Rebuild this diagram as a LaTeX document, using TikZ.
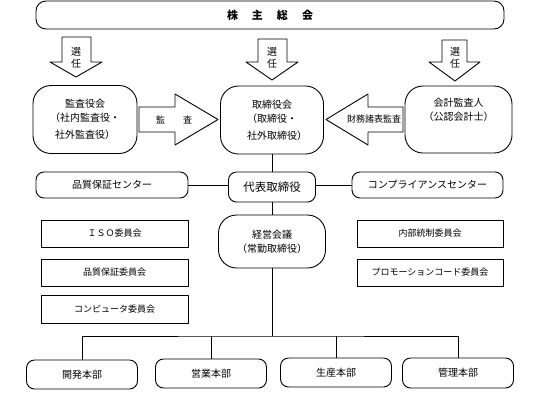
\documentclass[tikz,border=0pt]{standalone}
\usepackage{fontspec}
\setmainfont{Noto Sans CJK JP}
\usepackage{tikz}
\usetikzlibrary{positioning,calc}
\tikzset{
  org/.style    ={draw, line width=0.9pt, fill=white, inner sep=0pt, align=center},
  bigbox/.style ={org, rounded corners=18pt, minimum width=105pt, minimum height=68pt},
  pill/.style   ={org, rounded corners=8pt, minimum height=27pt},
  plainbox/.style={org, sharp corners, minimum width=147pt, minimum height=27pt},
}

\begin{document}
\begin{tikzpicture}[x=1pt, y=-1pt, line join=round,
  wire/.style={line width=0.9pt},
  blockarrow/.style={draw, line width=0.9pt, fill=white},
  note/.style={font=\fontsize{9}{11}\selectfont},
  lbl/.style={font=\fontsize{10}{14}\selectfont}
]
\useasboundingbox[fill=white] (0,0) rectangle (540,413);

%--- Shareholders ---
\node[pill, rounded corners=10pt, minimum width=468pt, minimum height=28pt,
  font=\fontsize{11}{13}\selectfont\bfseries] (sokai) at (270,15)
  {株\hspace{14pt}主\hspace{14pt}総\hspace{14pt}会};

%--- Election arrows ---
\draw[blockarrow] (62,37) -- (91,37) -- (91,62) -- (102,62) -- (76,77) -- (50,62) -- (62,62) -- cycle;
\draw[blockarrow] (258,39) -- (287,39) -- (287,62) -- (298,62) -- (272,80) -- (246,62) -- (258,62) -- cycle;
\draw[blockarrow] (442,40) -- (467,40) -- (467,62) -- (480,62) -- (455,81) -- (429,62) -- (442,62) -- cycle;
\node[lbl, font=\fontsize{10}{11.5}\selectfont, align=center] (senninL) at (76,58)  {選\\任};
\node[lbl, font=\fontsize{10}{11.5}\selectfont, align=center] (senninC) at (272,58) {選\\任};
\node[lbl, font=\fontsize{10}{11.5}\selectfont, align=center] (senninR) at (455,58) {選\\任};

%--- Boards ---
\node[bigbox, lbl, minimum width=104pt] (kansayaku) at (85,119.5)
  {監査役会\\（社内監査役・\\[3pt]社外監査役）};
\node[bigbox, lbl, minimum width=103pt] (torishimari) at (272,120)
  {取締役会\\（取締役・\\[3pt]\hspace{10pt}社外取締役）};
\node[bigbox, lbl, minimum width=107pt, minimum height=67pt] (kaikei) at (458.5,119.5)
  {会計監査人\\（公認会計士）\\[3pt]\strut};

%--- Audit arrows ---
\draw[blockarrow] (139,107) -- (175,107) -- (175,94) -- (218,119.5) -- (175,145) -- (175,132) -- (139,132) -- cycle;
\draw[blockarrow] (403,107) -- (368,107) -- (368,94) -- (326,119.5) -- (368,145) -- (368,132) -- (403,132) -- cycle;
\node[note] (kansa) at (174,119.5) {監\hspace{18pt}査};
\node[note] (zaimu) at (374,119.5) {財務諸表監査};

%--- Representative director ---
\node[pill, font=\fontsize{11.5}{14}\selectfont, minimum width=87pt, minimum height=30pt] (daihyo) at (272,187) {代表取締役};
\node[pill, font=\fontsize{10}{12}\selectfont, minimum width=152pt, minimum height=26pt] (hinshitsuC) at (112,185) {品質保証センター};
\node[pill, font=\fontsize{10}{12}\selectfont, minimum width=151pt, minimum height=26pt] (compC) at (427.5,185) {コンプライアンスセンター};

\draw[wire] (torishimari) -- (daihyo);
\draw[wire] (hinshitsuC) -- (hinshitsuC -| daihyo.west);
\draw[wire] (compC) -- (compC -| daihyo.east);

%--- Committees ---
\node[plainbox, note] (iso)        at (114.5,233.5) {ＩＳＯ委員会};
\node[plainbox, note] (hinshitsuI) at (114.5,272.5) {品質保証委員会};
\node[plainbox, note, minimum height=28pt] (computer) at (114.5,309) {コンピュータ委員会};
\node[plainbox, note, minimum width=146pt] (naibu) at (430,233.5) {内部統制委員会};
\node[plainbox, note, minimum width=146pt] (promo) at (430,272.5) {プロモーションコード委員会};

\node[bigbox, lbl, minimum width=107pt, minimum height=53pt] (keiei) at (272,241.5)
  {経営会議\\（常勤取締役）};
\draw[wire] (daihyo) -- (keiei);

%--- Divisions ---
\node[pill, font=\fontsize{10}{12}\selectfont, minimum width=111pt, minimum height=29pt] (kaihatsu) at (82,374.5) {開発本部};
\node[pill, font=\fontsize{10}{12}\selectfont, minimum width=111pt, minimum height=29pt] (eigyo) at (211,373.5) {営業本部};
\node[pill, font=\fontsize{10}{12}\selectfont, minimum width=111pt, minimum height=29pt] (seisan) at (336,372.5) {生産本部};
\node[pill, font=\fontsize{10}{12}\selectfont, minimum width=111pt, minimum height=30pt] (kanri) at (458,373) {管理本部};

\coordinate (bus) at (272,336);
\draw[wire] (keiei) -- (bus);
\draw[wire] (kaihatsu) |- (bus) -| (kanri);
\draw[wire] (eigyo) -- (eigyo |- bus);
\draw[wire] (seisan) -- (seisan |- bus);

\end{tikzpicture}
\end{document}
